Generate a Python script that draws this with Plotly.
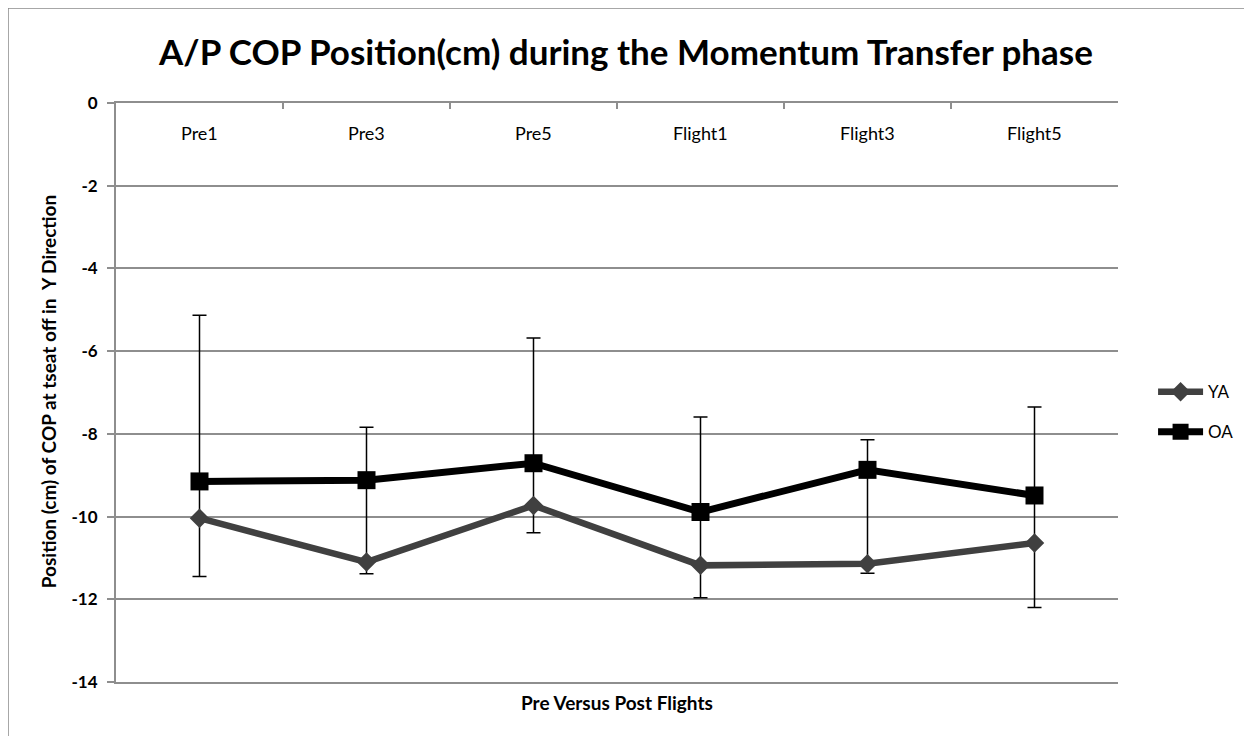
import plotly.graph_objects as go

categories = ["Pre1", "Pre3", "Pre5", "Flight1", "Flight3", "Flight5"]
ya = [-10.04, -11.10, -9.73, -11.18, -11.14, -10.64]
oa = [-9.15, -9.12, -8.71, -9.89, -8.87, -9.49]
# error bars: OA goes up, YA goes down
oa_err_up = [4.02, 1.28, 3.03, 2.30, 0.73, 2.14]
ya_err_down = [1.41, 0.28, 0.66, 0.78, 0.23, 1.56]
y_ticks = [0, -2, -4, -6, -8, -10, -12, -14]
y_tick_text = ["0", "-2", "-4", "-6", "-8", "-10", "-12", "-14"]

# the bar line runs on between the two points, so YA's upper part reaches OA
ya_to_oa = [o - y for o, y in zip(oa, ya)]

font = "Lato"
grid = "#8e8e8e"

# page gets drawn 8px in from the corner, so work in shifted pixels
off = 8
plot_top, plot_h = 103, 578.5

fig = go.Figure()
fig.add_trace(go.Scatter(
    x=categories, y=ya, name="YA", mode="lines+markers",
    line=dict(color="#404040", width=6.5),
    marker=dict(symbol="diamond", size=15, color="#404040"),
    error_y=dict(type="data", array=ya_to_oa, arrayminus=ya_err_down,
                 color="black", thickness=1.5, width=7),
    legend="legend",
))
fig.add_trace(go.Scatter(
    x=categories, y=oa, name="OA", mode="lines+markers",
    line=dict(color="black", width=7),
    marker=dict(symbol="square", size=18, color="black"),
    error_y=dict(type="data", array=oa_err_up, arrayminus=[0] * len(oa),
                 color="black", thickness=1.5, width=7),
    legend="legend2",
))

cat_labels = [dict(text=c, x=c, xref="x", yref="paper", y=1 - (133 - plot_top) / plot_h,
                   xanchor="center", yanchor="middle", showarrow=False,
                   font=dict(size=18, family=font)) for c in categories]

fig.update_layout(
    width=1252, height=736,
    margin=dict(l=116 - off, r=134 + off, t=103 - off, b=54 + off),
    paper_bgcolor="white", plot_bgcolor="white",
    font=dict(family=font, color="black"),
    showlegend=True,
    title=dict(text="<b>A/P COP Position(cm) during the Momentum Transfer phase</b>",
               x=0.5 - off / 1252, xanchor="center", y=1 - (53 - off) / 736, yanchor="middle",
               font=dict(size=35, family=font, color="black")),
    legend=dict(x=1.035, y=1 - (392 - plot_top) / plot_h, xanchor="left", yanchor="middle",
                font=dict(size=17, family=font), itemwidth=45, bgcolor="rgba(0,0,0,0)"),
    legend2=dict(x=1.035, y=1 - (432 - plot_top) / plot_h, xanchor="left", yanchor="middle",
                 font=dict(size=17, family=font), itemwidth=45, bgcolor="rgba(0,0,0,0)"),
    xaxis=dict(side="top", type="category", range=[-0.5, len(categories) - 0.5],
               tickson="boundaries", ticks="inside",
               ticklen=6, tickcolor=grid, tickwidth=1.5,
               showline=True, linecolor=grid, linewidth=2, mirror=True,
               showgrid=False, showticklabels=False),
    yaxis=dict(range=[-14, 0], tickvals=y_ticks, ticktext=y_tick_text, ticks="outside",
               ticklen=7, tickcolor=grid, tickwidth=1.5, showline=True, linecolor=grid,
               linewidth=2, showgrid=True, gridcolor=grid, gridwidth=1.5, zeroline=False,
               ticklabelstandoff=6,
               tickfont=dict(size=17, family=font, weight="bold")),
    shapes=[dict(type="rect", xref="paper", yref="paper",
                 x0=(8 - 116) / 1002, x1=(1270 - 116) / 1002,
                 y0=-(760 - 681.5) / plot_h, y1=1 + (103 - 8) / plot_h,
                 line=dict(color="#8a8a8a", width=1.5), layer="below")],
    annotations=cat_labels + [
        dict(text="<b>Pre Versus Post Flights</b>", xref="paper", yref="paper",
             x=(617 - 116) / 1002, y=-(702 - 681.5) / plot_h, xanchor="center",
             yanchor="middle", showarrow=False, font=dict(size=19, family=font)),
        dict(text="<b>Position (cm) of COP at tseat off in  Y Direction</b>",
             xref="paper", yref="paper", x=(48 - 116) / 1002,
             y=1 - (392 - plot_top) / plot_h, xanchor="center", yanchor="middle",
             textangle=-90, showarrow=False, font=dict(size=19, family=font)),
    ],
)

fig.write_html("out.html")
